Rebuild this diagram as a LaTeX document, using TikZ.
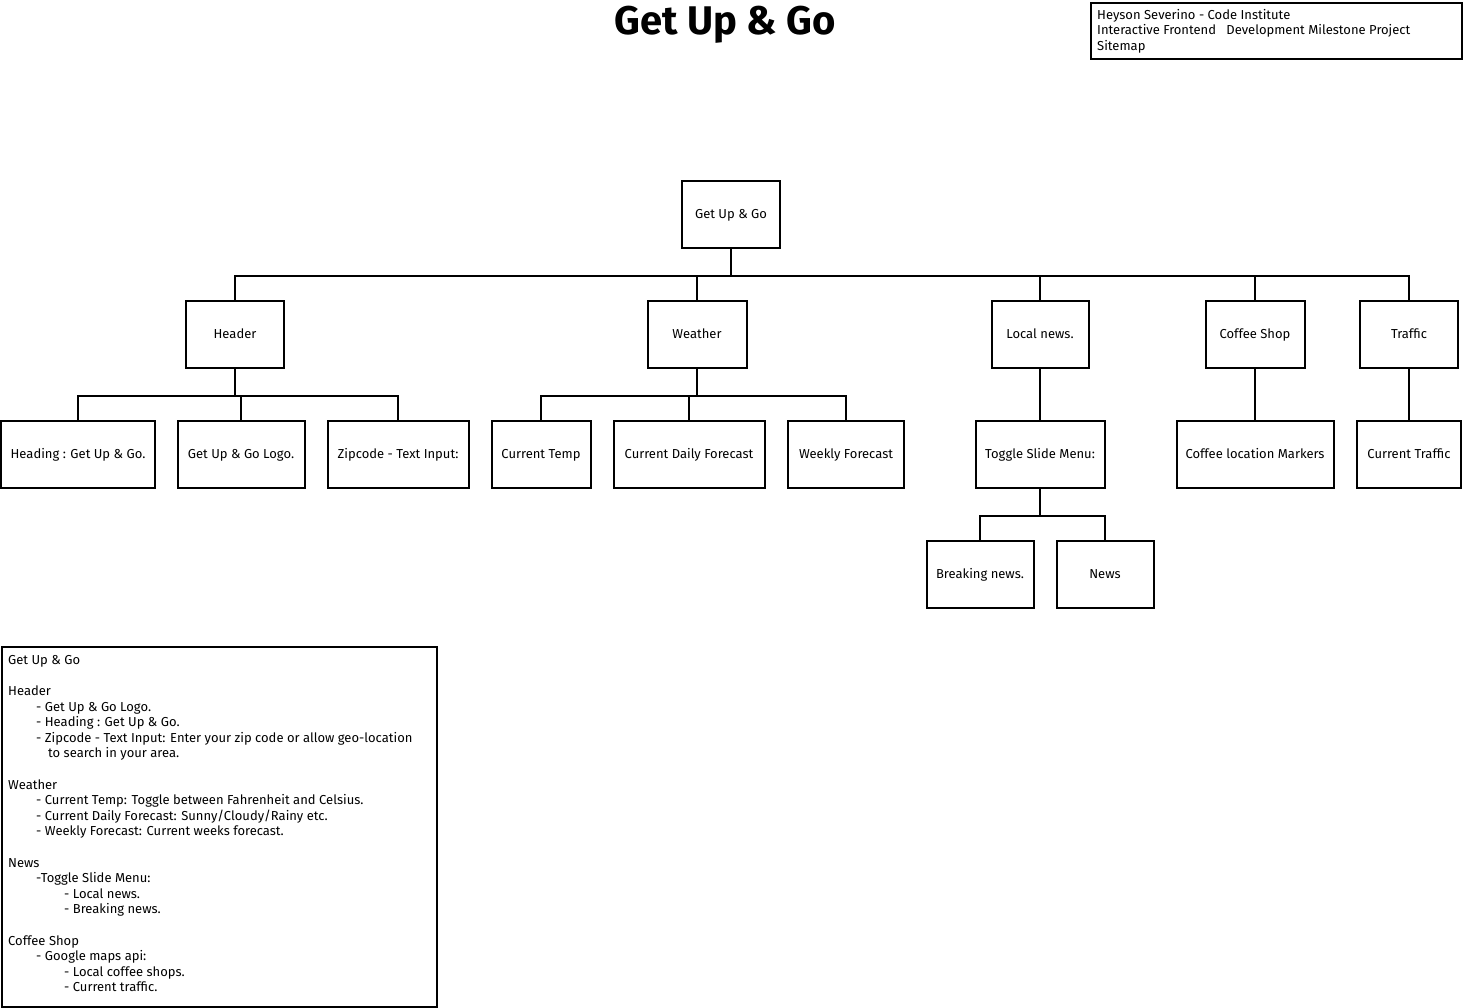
\documentclass[tikz,border=0pt]{standalone}
\usepackage{fontspec}
\setmainfont{Fira Sans}
\usepackage{tikz}
\usetikzlibrary{positioning}
\tikzset{box/.style={draw, line width=2pt, minimum height=67pt, inner sep=0pt, align=center,
           text height=11.5pt, text depth=3pt, font=\fontsize{13}{15}\selectfont},
         link/.style={line width=2pt}}

\begin{document}
\begin{tikzpicture}[x=1pt, y=-1pt]
\useasboundingbox (0,0) rectangle (1463,1008);

\node[font=\fontsize{40}{44}\selectfont\bfseries] (title) at (725,25) {Get Up \& Go};

\node[draw, line width=2pt, minimum width=371pt, minimum height=56pt, anchor=north west] (info) at (1090,2) {};
\node[anchor=north west, align=left, inner sep=0pt, font=\fontsize{13}{15.5}\selectfont] at ([shift={(7,7)}]info.north west)
  {Heyson Severino - Code Institute\\ Interactive Frontend\ \ \ Development Milestone Project\\ Sitemap};

% tree
\node[box, minimum width=98pt] (root) at (731,214.5) {Get Up \& Go};

\node[box, minimum width=98pt] (hdr) at (235,334.5) {Header};
\node[box, minimum width=99pt] (wth) at (697,334.5) {Weather};
\node[box, minimum width=97pt] (lnews) at (1040,334.5) {Local news.};
\node[box, minimum width=99pt] (coffee) at (1255,334.5) {Coffee Shop};
\node[box, minimum width=98pt] (traffic) at (1409,334.5) {Traffic};

\node[box, minimum width=154pt] (heading) at (78,454.5) {Heading : Get Up \& Go.};
\node[box, minimum width=127pt] (logo) at (241,454.5) {Get Up \& Go Logo.};
\node[box, minimum width=141pt] (zip) at (398,454.5) {Zipcode - Text Input:};
\node[box, minimum width=99pt] (temp) at (541,454.5) {Current Temp};
\node[box, minimum width=151pt] (daily) at (689,454.5) {Current Daily Forecast};
\node[box, minimum width=116pt] (weekly) at (846,454.5) {Weekly Forecast};
\node[box, minimum width=129pt] (toggle) at (1040,454.5) {Toggle Slide Menu:};
\node[box, minimum width=157pt] (markers) at (1255,454.5) {Coffee location Markers};
\node[box, minimum width=104pt] (curtraffic) at (1409,454.5) {Current Traffic};

\node[box, minimum width=107pt] (breaking) at (980,574.5) {Breaking news.};
\node[box, minimum width=97pt] (news) at (1105,574.5) {News};

\foreach \c in {hdr,wth,lnews,coffee,traffic}
  \draw[link] (root.south) -- ++(0,27) -| (\c.north);
\foreach \c in {heading,logo,zip}
  \draw[link] (hdr.south) -- ++(0,27) -| (\c.north);
\foreach \c in {temp,daily,weekly}
  \draw[link] (wth.south) -- ++(0,27) -| (\c.north);
\foreach \c in {breaking,news}
  \draw[link] (toggle.south) -- ++(0,27) -| (\c.north);
\draw[link] (lnews) -- (toggle);
\draw[link] (coffee) -- (markers);
\draw[link] (traffic) -- (curtraffic);

% notes
\node[draw, line width=2pt, minimum width=435pt, minimum height=360pt, anchor=north west] (notes) at (1,646) {};
\node[anchor=north west, align=left, inner sep=0pt, font=\fontsize{13}{15.6}\selectfont] at ([shift={(7,9)}]notes.north west)
  {Get Up \& Go\\[15.6pt]
   Header\\
   \hspace*{28pt}- Get Up \& Go Logo.\\
   \hspace*{28pt}- Heading : Get Up \& Go.\\
   \hspace*{28pt}- Zipcode - Text Input: Enter your zip code or allow geo-location\\
   \hspace*{40pt}to search in your area.\\[15.6pt]
   Weather\\
   \hspace*{28pt}- Current Temp: Toggle between Fahrenheit and Celsius.\\
   \hspace*{28pt}- Current Daily Forecast: Sunny/Cloudy/Rainy etc.\\
   \hspace*{28pt}- Weekly Forecast: Current weeks forecast.\\[15.6pt]
   News\\
   \hspace*{28pt}-Toggle Slide Menu:\\
   \hspace*{56pt}- Local news.\\
   \hspace*{56pt}- Breaking news.\\[15.6pt]
   Coffee Shop\\
   \hspace*{28pt}- Google maps api:\\
   \hspace*{56pt}- Local coffee shops.\\
   \hspace*{56pt}- Current traffic.};

\end{tikzpicture}
\end{document}
